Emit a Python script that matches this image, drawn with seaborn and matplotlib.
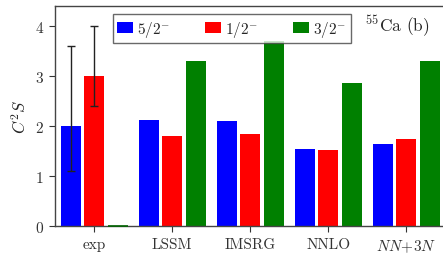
import numpy as np
import pandas as pd
import matplotlib
matplotlib.use('Agg')
import matplotlib.pyplot as plt
import seaborn as sns

sns.set_theme(style='ticks')
plt.rcParams['font.family'] = ['cmr10', 'DejaVu Serif']
plt.rcParams['mathtext.fontset'] = 'cm'
plt.rcParams['axes.formatter.use_mathtext'] = True

# values
models = ['exp', 'LSSM', 'IMSRG', 'NNLO', '$NN\\!+\\!3N$']
states = ['$5/2^{-}$', '$1/2^{-}$', '$3/2^{-}$']
c2s_52 = [2.00, 2.12, 2.09, 1.54, 1.64]
c2s_12 = [3.00, 1.79, 1.84, 1.52, 1.74]
c2s_32 = [0.00, 3.30, 3.69, 2.86, 3.29]
# experimental error ranges (low, high)
exp_52_err = [1.1, 3.6]
exp_12_err = [2.4, 4.0]
colors = ['#0000ff', '#ff0000', '#008000']

df = pd.DataFrame({
    'model': models * 3,
    'state': [states[0]] * 5 + [states[1]] * 5 + [states[2]] * 5,
    'C2S': c2s_52 + c2s_12 + c2s_32,
})

fig = plt.figure(figsize=(4.43, 2.55), dpi=100)
ax = fig.add_axes([0.124, 0.110, 0.881, 0.863])

sns.barplot(data=df, x='model', y='C2S', hue='state', palette=colors,
            width=0.9, gap=0.15, saturation=1, ax=ax, legend=True,
            edgecolor=None, linewidth=0)

# zero-height exp bar still shows as a thin line on the axis
for bar in ax.containers[2]:
    if bar.get_height() == 0:
        bar.set_edgecolor('#006400')
        bar.set_linewidth(1.2)
        bar.set_zorder(5)
        bar.set_clip_on(False)

# error bars on the experimental values
exp_blue = ax.containers[0][0]
exp_red = ax.containers[1][0]
for bar, val, (lo, hi) in [(exp_blue, c2s_52[0], exp_52_err), (exp_red, c2s_12[0], exp_12_err)]:
    xc = bar.get_x() + bar.get_width() / 2
    ax.errorbar(xc, val, yerr=[[val - lo], [hi - val]], fmt='none',
                ecolor='#222222', elinewidth=1.0, capsize=3, capthick=1.0)

ax.set_ylim(0, 4.4)
ax.set_xlim(-0.504, 4.5)
ax.set_yticks([0, 1, 2, 3, 4])
ax.set_xlabel('')
ax.set_ylabel('$C^2S$', fontsize=12)
ax.tick_params(axis='both', labelsize=11, colors='#333333', length=4.5, width=0.8)
for s in ['left', 'bottom', 'top']:
    ax.spines[s].set_color('#444444')
    ax.spines[s].set_linewidth(1.0)
ax.spines['right'].set_visible(False)

leg = ax.legend(loc='upper left', bbox_to_anchor=(0.148, 0.963), ncol=3,
                fontsize=11, frameon=True, fancybox=False, edgecolor='#444444',
                handlelength=1.05, handleheight=0.78, columnspacing=2.3,
                handletextpad=0.25, borderpad=0.3, borderaxespad=0)
leg.get_frame().set_linewidth(1.0)

ax.text(0.795, 0.91, '$^{55}$Ca (b)', transform=ax.transAxes, fontsize=12.5,
        ha='left', va='center')

fig.savefig('out.png', dpi=100)
plt.close()
